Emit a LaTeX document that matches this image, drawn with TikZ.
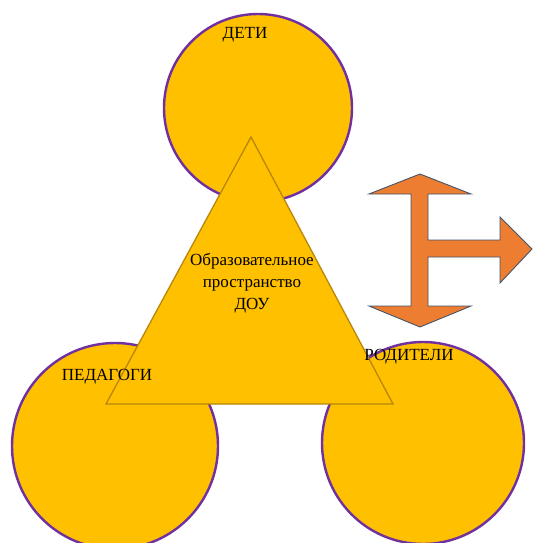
\documentclass[tikz,border=0pt]{standalone}
\usepackage{fontspec}
\setmainfont{Liberation Serif}
\usetikzlibrary{positioning}
\definecolor{gold}{HTML}{FFC000}
\definecolor{plum}{HTML}{7030A0}
\definecolor{goldline}{HTML}{B8860B}
\definecolor{arrorange}{HTML}{ED7D31}
\definecolor{arrline}{HTML}{44546A}
\begin{document}
\begin{tikzpicture}[
  x=1pt,y=-1pt,
  circ/.style={circle,draw=plum,line width=2.4pt,fill=gold,inner sep=0pt},
  tri/.style={draw=goldline,line width=1.3pt,fill=gold,line join=miter},
  lbl/.style={inner sep=0pt,font=\fontsize{17}{22}\selectfont,align=center},
  bigarrow/.style={draw=arrline,line width=0.9pt,fill=arrorange,line join=miter}
]
\useasboundingbox (0,0) rectangle (533,543);
\node[circ,minimum size=188pt] (deti) at (258,108) {};
\node[circ,minimum size=206pt] (pedagogi) at (115,446) {};
\node[circ,minimum size=202pt] (roditeli) at (423,443) {};
\coordinate (apex) at (251,137);
\coordinate (baseL) at (106,404);
\coordinate (baseR) at (393,404);
\draw[tri] (apex) -- (baseL) -- (baseR) -- cycle;
\node[lbl] (detiL) at (245,35) {ДЕТИ};
\node[lbl] (space) at (252,283) {Образовательное\\пространство\\ДОУ};
\node[lbl] (pedL) at (107,377) {ПЕДАГОГИ};
\node[lbl] (rodL) at (409,357) {РОДИТЕЛИ};
\draw[bigarrow] (420,174) -- (471,194) -- (428,194) -- (428,240) -- (500,240)
  -- (500,217) -- (532,249) -- (500,283) -- (500,257) -- (428,257)
  -- (428,306) -- (471,306) -- (420,327) -- (369,306) -- (411,306)
  -- (411,194) -- (369,194) -- cycle;
\end{tikzpicture}
\end{document}
